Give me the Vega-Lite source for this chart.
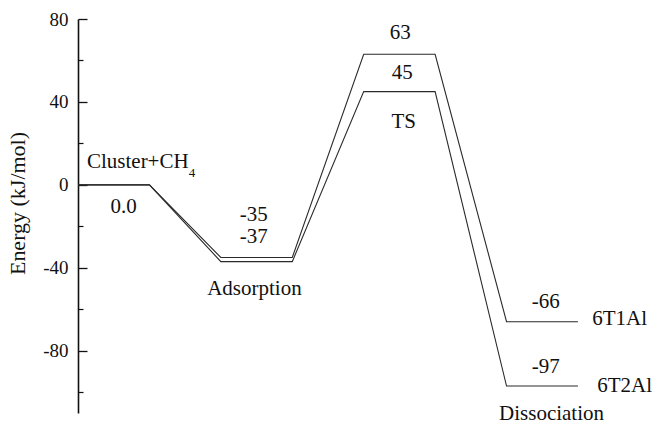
{
  "$schema": "https://vega.github.io/schema/vega-lite/v6.json",
  "width": 571.4,
  "height": 394,
  "autosize": {"type": "none"},
  "padding": {"left": 78, "top": 19, "right": 6, "bottom": 13},
  "config": {
    "font": "Liberation Serif",
    "view": {"stroke": null}
  },
  "datasets": {
    "levels": [
      {"system": "6T1Al", "step": 0, "energy": 0},
      {"system": "6T1Al", "step": 1, "energy": 0},
      {"system": "6T1Al", "step": 2, "energy": -35},
      {"system": "6T1Al", "step": 3, "energy": -35},
      {"system": "6T1Al", "step": 4, "energy": 63},
      {"system": "6T1Al", "step": 5, "energy": 63},
      {"system": "6T1Al", "step": 6, "energy": -66},
      {"system": "6T1Al", "step": 7, "energy": -66},
      {"system": "6T2Al", "step": 0, "energy": 0},
      {"system": "6T2Al", "step": 1, "energy": 0},
      {"system": "6T2Al", "step": 2, "energy": -37},
      {"system": "6T2Al", "step": 3, "energy": -37},
      {"system": "6T2Al", "step": 4, "energy": 45},
      {"system": "6T2Al", "step": 5, "energy": 45},
      {"system": "6T2Al", "step": 6, "energy": -97},
      {"system": "6T2Al", "step": 7, "energy": -97}
    ],
    "centerLabels": [
      {"label": "0.0", "x": 0.64, "y": -13.5},
      {"label": "-35", "x": 2.46, "y": -17.3},
      {"label": "-37", "x": 2.46, "y": -28},
      {"label": "Adsorption", "x": 2.47, "y": -53},
      {"label": "63", "x": 4.51, "y": 70.2},
      {"label": "45", "x": 4.54, "y": 51.1},
      {"label": "TS", "x": 4.56, "y": 27.5},
      {"label": "-66", "x": 6.55, "y": -59.3},
      {"label": "-97", "x": 6.55, "y": -90.6},
      {"label": "Dissociation", "x": 6.63, "y": -113.3}
    ],
    "leftLabels": [
      {"label": "Cluster+CH", "x": 0.126, "y": 8.2},
      {"label": "6T1Al", "x": 7.2, "y": -67.5},
      {"label": "6T2Al", "x": 7.27, "y": -99.8}
    ],
    "subLabels": [
      {"label": "4", "x": 1.55, "y": 3.6}
    ]
  },
  "layer": [
    {
      "data": {"name": "levels"},
      "mark": {"type": "line", "color": "#2a2a2a", "strokeWidth": 1.1},
      "encoding": {
        "x": {"field": "step", "type": "quantitative", "scale": {"domain": [0, 8], "nice": false, "zero": false}, "axis": null},
        "y": {
          "field": "energy", "type": "quantitative",
          "scale": {"domain": [-110, 80], "nice": false, "zero": false},
          "axis": {
            "orient": "left",
            "values": [-80, -40, 0, 40, 80],
            "labelExpr": "datum.value < 0 ? '-' + abs(datum.value) : '' + datum.value",
            "tickSize": -9,
            "tickWidth": 1.3,
            "tickColor": "#111",
            "domainColor": "#111",
            "domainWidth": 1.6,
            "grid": false,
            "labelPadding": 19,
            "labelFontSize": 19,
            "labelColor": "#111",
            "labelFont": "Liberation Serif",
            "title": "Energy (kJ/mol)",
            "titleFont": "Liberation Serif",
            "titleFontSize": 22,
            "titleFontWeight": "normal",
            "titleColor": "#111",
            "titleX": -48,
            "titleY": 184
          }
        },
        "detail": {"field": "system"}
      }
    },
    {
      "data": {"name": "levels"},
      "mark": {"type": "point", "opacity": 0},
      "encoding": {
        "x": {"field": "step", "type": "quantitative", "axis": null},
        "y": {
          "field": "energy", "type": "quantitative",
          "axis": {
            "orient": "left",
            "values": [-100, -60, -20, 20, 60],
            "tickSize": -5,
            "tickWidth": 1.2,
            "tickColor": "#111",
            "domain": false,
            "labels": false,
            "grid": false,
            "title": null
          }
        }
      }
    },
    {
      "data": {"name": "centerLabels"},
      "mark": {"type": "text", "align": "center", "baseline": "alphabetic", "font": "Liberation Serif", "fontSize": 21, "color": "#111"},
      "encoding": {
        "x": {"field": "x", "type": "quantitative", "axis": null},
        "y": {"field": "y", "type": "quantitative", "axis": null},
        "text": {"field": "label"}
      }
    },
    {
      "data": {"name": "leftLabels"},
      "mark": {"type": "text", "align": "left", "baseline": "alphabetic", "font": "Liberation Serif", "fontSize": 21, "color": "#111"},
      "encoding": {
        "x": {"field": "x", "type": "quantitative", "axis": null},
        "y": {"field": "y", "type": "quantitative", "axis": null},
        "text": {"field": "label"}
      }
    },
    {
      "data": {"name": "subLabels"},
      "mark": {"type": "text", "align": "left", "baseline": "alphabetic", "font": "Liberation Serif", "fontSize": 13, "color": "#111"},
      "encoding": {
        "x": {"field": "x", "type": "quantitative", "axis": null},
        "y": {"field": "y", "type": "quantitative", "axis": null},
        "text": {"field": "label"}
      }
    }
  ],
  "resolve": {"axis": {"y": "independent"}}
}
